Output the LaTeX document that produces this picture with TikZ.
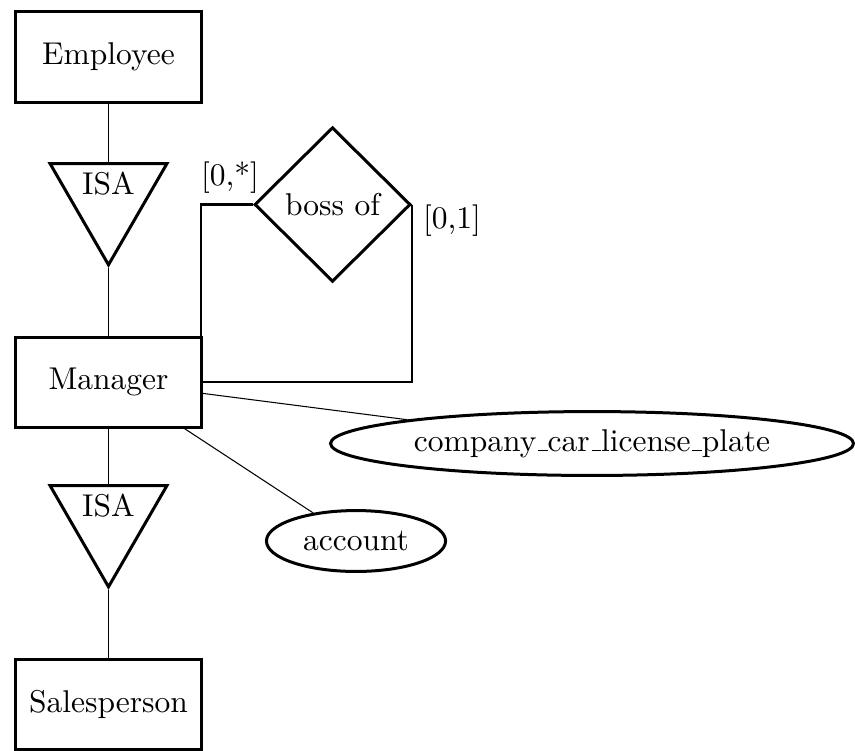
\documentclass[tikz,border=0pt]{standalone}
\usetikzlibrary{shapes.geometric}
% short baseline rule used as the underscore in attribute names
\newcommand\ulbar{\leavevmode\kern.06em\vbox{\hrule width.3em}}
\begin{document}
\begin{tikzpicture}[x=0.3333pt,y=-0.3333pt,
  every node/.style={font=\fontsize{10.5}{12.6}\selectfont},
  entity/.style={draw,line width=1pt,minimum width=62pt,minimum height=30pt,inner sep=0pt},
  isa/.style={draw,line width=1pt,regular polygon,regular polygon sides=3,
    shape border rotate=180,minimum size=45pt,inner sep=0pt},
  rel/.style={draw,line width=1pt,diamond,aspect=1,minimum width=52pt,minimum height=51.5pt,inner sep=0pt},
  attr/.style={draw,line width=1pt,ellipse,inner sep=0pt},
  link/.style={line width=0.35pt},
  rlink/.style={line width=0.7pt},
  card/.style={inner sep=0pt}]
\useasboundingbox (0,0) rectangle (855,750);

% entities
\node[entity] (emp) at (108.5,57) {Employee};
\node[entity] (mgr) at (108.5,382) {Manager};
\node[entity] (sales) at (108.5,704) {Salesperson};

% ISA triangles and their labels
\node[isa] (isa1) at (108.5,197.3) {};
\node (isa1t) at (108.5,184) {ISA};
\node[isa] (isa2) at (108.5,519.3) {};
\node (isa2t) at (108.5,506) {ISA};

% relationship
\node[rel] (boss) at (332.5,204.5) {boss of};

% attributes
\node[attr,minimum width=174.3pt,minimum height=21.3pt] (car) at (592,443.5) {company\ulbar car\ulbar license\ulbar plate};
\node[attr,minimum width=59.7pt,minimum height=20.3pt] (acct) at (356,541) {account};

% hierarchy links
\draw[link] (emp.south) -- (isa1.north);
\draw[link] (isa1.south) -- (mgr.north);
\draw[link] (mgr.south) -- (isa2.north);
\draw[link] (isa2.south) -- (sales.north);

% recursive relationship
\draw[rlink] ([xshift=-0.8pt]mgr.north east) |- (boss.west);
\draw[rlink] (boss.east) |- (mgr.east);
\node[card] (c1) at (230,178) {[0,*]};
\node[card] (c2) at (452,221) {[0,1]};

% attribute links
\draw[link] ([yshift=-3.8pt]mgr.east) -- (car);
\draw[link] ([xshift=-6.2pt]mgr.south east) -- (acct);
\end{tikzpicture}
\end{document}
